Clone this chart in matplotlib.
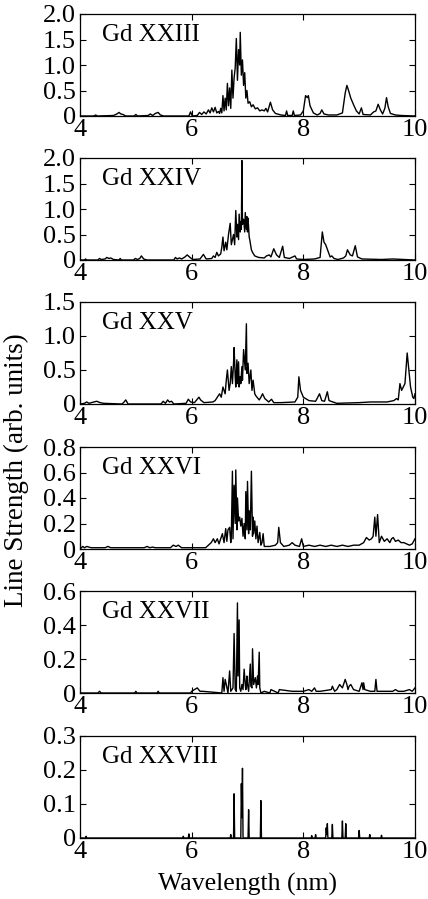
import matplotlib
matplotlib.use("Agg")
import matplotlib.pyplot as plt
from matplotlib.ticker import FuncFormatter

plt.rcParams["font.family"] = ["Liberation Serif", "DejaVu Serif"]
plt.rcParams["font.size"] = 18

# Gd XXIII spectrum (wavelength nm, line strength)
wl_23 = [4.00, 4.25, 4.28, 4.31, 4.60, 4.66, 4.70, 4.73, 4.77, 4.82, 4.97, 5.00, 5.03, 5.22,
         5.26, 5.30, 5.35, 5.40, 5.44, 5.50, 5.95, 5.98, 6.01, 6.10, 6.14, 6.18, 6.22, 6.26,
         6.30, 6.33, 6.36, 6.39, 6.42, 6.45, 6.48, 6.50, 6.52, 6.54, 6.56, 6.58, 6.60, 6.62,
         6.64, 6.66, 6.68, 6.70, 6.72, 6.74, 6.76, 6.78, 6.80, 6.82, 6.84, 6.86, 6.87, 6.89,
         6.91, 6.93, 6.95, 6.97, 6.99, 7.01, 7.04, 7.07, 7.10, 7.14, 7.18, 7.22, 7.26, 7.30,
         7.33, 7.36, 7.41, 7.45, 7.50, 7.60, 7.68, 7.70, 7.72, 7.80, 7.82, 7.84, 7.95, 8.00,
         8.04, 8.07, 8.09, 8.12, 8.18, 8.25, 8.30, 8.33, 8.37, 8.45, 8.60, 8.70, 8.75, 8.78,
         8.81, 8.85, 8.90, 8.95, 9.00, 9.04, 9.07, 9.20, 9.26, 9.30, 9.34, 9.38, 9.42, 9.46,
         9.49, 9.52, 9.56, 9.65, 9.75, 10.00]
ls_23 = [0.00, 0.00, 0.02, 0.00, 0.01, 0.04, 0.07, 0.04, 0.03, 0.00, 0.00, 0.03, 0.00, 0.01,
         0.04, 0.01, 0.05, 0.07, 0.02, 0.00, 0.00, 0.08, 0.00, 0.01, 0.07, 0.03, 0.08, 0.04,
         0.12, 0.06, 0.16, 0.08, 0.17, 0.06, 0.09, 0.05, 0.15, 0.06, 0.40, 0.10, 0.35, 0.12,
         0.64, 0.20, 0.55, 0.15, 0.90, 0.35, 0.75, 0.95, 1.52, 0.70, 1.30, 1.00, 1.64, 0.80,
         1.10, 0.60, 0.85, 0.35, 0.50, 0.25, 0.28, 0.18, 0.22, 0.14, 0.16, 0.10, 0.12, 0.10,
         0.15, 0.08, 0.27, 0.12, 0.05, 0.02, 0.01, 0.10, 0.01, 0.01, 0.10, 0.01, 0.02, 0.10,
         0.40, 0.36, 0.40, 0.20, 0.06, 0.02, 0.05, 0.12, 0.04, 0.02, 0.02, 0.06, 0.45, 0.60,
         0.50, 0.35, 0.22, 0.10, 0.04, 0.16, 0.03, 0.02, 0.08, 0.10, 0.23, 0.12, 0.04, 0.15,
         0.36, 0.18, 0.05, 0.02, 0.01, 0.00]

# Gd XXIV
wl_24 = [4.00, 4.08, 4.10, 4.12, 4.32, 4.35, 4.38, 4.45, 4.48, 4.52, 4.55, 4.60, 4.70, 4.72,
         4.74, 4.96, 4.99, 5.03, 5.07, 5.10, 5.14, 5.20, 5.68, 5.71, 5.74, 5.78, 5.82, 5.88,
         5.92, 5.97, 6.02, 6.15, 6.21, 6.26, 6.36, 6.39, 6.42, 6.45, 6.48, 6.52, 6.54, 6.56,
         6.58, 6.61, 6.63, 6.66, 6.69, 6.71, 6.75, 6.77, 6.79, 6.81, 6.82, 6.84, 6.85, 6.87,
         6.88, 6.89, 6.90, 6.91, 6.93, 6.95, 6.96, 6.98, 6.99, 7.00, 7.01, 7.03, 7.04, 7.07,
         7.09, 7.13, 7.20, 7.30, 7.34, 7.39, 7.42, 7.47, 7.52, 7.57, 7.63, 7.66, 7.75, 7.85,
         7.88, 8.00, 8.20, 8.30, 8.34, 8.37, 8.40, 8.45, 8.48, 8.51, 8.55, 8.62, 8.72, 8.76,
         8.79, 8.84, 8.88, 8.93, 8.97, 9.05, 9.40, 9.60, 9.80, 10.00]
ls_24 = [0.00, 0.00, 0.02, 0.00, 0.00, 0.03, 0.01, 0.02, 0.05, 0.03, 0.04, 0.01, 0.00, 0.03,
         0.00, 0.00, 0.03, 0.01, 0.03, 0.08, 0.02, 0.00, 0.00, 0.05, 0.02, 0.04, 0.02, 0.06,
         0.10, 0.05, 0.01, 0.02, 0.11, 0.02, 0.03, 0.08, 0.05, 0.15, 0.08, 0.12, 0.25, 0.45,
         0.18, 0.35, 0.20, 0.50, 0.72, 0.30, 0.50, 0.30, 0.97, 0.45, 0.70, 0.40, 0.90, 0.55,
         0.75, 0.60, 1.95, 0.70, 0.80, 0.55, 0.93, 0.60, 0.85, 0.55, 0.82, 0.45, 0.40, 0.20,
         0.15, 0.08, 0.05, 0.04, 0.08, 0.10, 0.06, 0.22, 0.10, 0.05, 0.27, 0.05, 0.03, 0.08,
         0.02, 0.01, 0.02, 0.05, 0.55, 0.35, 0.30, 0.15, 0.06, 0.08, 0.03, 0.01, 0.04, 0.08,
         0.20, 0.10, 0.08, 0.28, 0.06, 0.02, 0.01, 0.02, 0.01, 0.00]

# Gd XXV
wl_25 = [4.00, 4.08, 4.12, 4.16, 4.25, 4.30, 4.36, 4.42, 4.75, 4.78, 4.82, 4.86, 5.45, 5.49,
         5.53, 5.57, 5.60, 5.64, 5.68, 5.90, 5.94, 5.98, 6.05, 6.09, 6.13, 6.16, 6.22, 6.38,
         6.42, 6.46, 6.50, 6.53, 6.56, 6.60, 6.62, 6.64, 6.67, 6.69, 6.71, 6.73, 6.75, 6.76,
         6.78, 6.79, 6.81, 6.82, 6.84, 6.85, 6.87, 6.88, 6.90, 6.91, 6.93, 6.96, 6.98, 6.99,
         7.01, 7.03, 7.06, 7.08, 7.10, 7.13, 7.15, 7.21, 7.24, 7.27, 7.31, 7.38, 7.43, 7.47,
         7.60, 7.85, 7.90, 7.92, 7.95, 8.00, 8.10, 8.22, 8.29, 8.33, 8.38, 8.43, 8.46, 8.60,
         9.00, 9.20, 9.50, 9.62, 9.67, 9.70, 9.73, 9.76, 9.79, 9.82, 9.86, 9.89, 9.92, 9.96,
         9.98, 10.00]
ls_25 = [0.00, 0.01, 0.03, 0.01, 0.03, 0.04, 0.02, 0.01, 0.00, 0.02, 0.06, 0.00, 0.00, 0.04,
         0.01, 0.06, 0.03, 0.04, 0.00, 0.01, 0.07, 0.03, 0.02, 0.06, 0.10, 0.06, 0.02, 0.03,
         0.05, 0.10, 0.15, 0.10, 0.25, 0.15, 0.35, 0.50, 0.20, 0.30, 0.55, 0.30, 0.60, 0.83,
         0.40, 0.25, 0.65, 0.30, 0.62, 0.25, 0.40, 0.30, 0.55, 0.35, 0.80, 0.50, 1.18, 0.45,
         0.60, 0.30, 0.50, 0.20, 0.35, 0.15, 0.12, 0.06, 0.10, 0.15, 0.08, 0.03, 0.07, 0.02,
         0.02, 0.03, 0.10, 0.40, 0.20, 0.10, 0.05, 0.04, 0.15, 0.05, 0.04, 0.18, 0.05, 0.01,
         0.02, 0.03, 0.03, 0.05, 0.08, 0.06, 0.30, 0.20, 0.25, 0.30, 0.75, 0.50, 0.25, 0.10,
         0.08, 0.15]

# Gd XXVI
wl_26 = [4.00, 4.05, 4.08, 4.12, 4.20, 4.45, 4.50, 4.55, 5.15, 5.20, 5.25, 5.30, 5.35, 5.62,
         5.67, 5.72, 5.76, 5.82, 6.25, 6.30, 6.35, 6.39, 6.42, 6.46, 6.49, 6.52, 6.55, 6.58,
         6.61, 6.63, 6.65, 6.68, 6.70, 6.71, 6.73, 6.74, 6.76, 6.78, 6.79, 6.81, 6.82, 6.84,
         6.86, 6.88, 6.90, 6.92, 6.94, 6.96, 6.97, 6.99, 7.00, 7.02, 7.03, 7.05, 7.07, 7.09,
         7.10, 7.11, 7.13, 7.15, 7.17, 7.19, 7.22, 7.24, 7.26, 7.28, 7.30, 7.40, 7.50, 7.54,
         7.56, 7.59, 7.65, 7.75, 7.80, 7.85, 7.93, 7.97, 8.00, 8.10, 8.20, 8.30, 8.40, 8.50,
         8.60, 8.70, 8.80, 8.90, 9.00, 9.08, 9.13, 9.18, 9.22, 9.25, 9.28, 9.30, 9.33, 9.36,
         9.40, 9.45, 9.50, 9.55, 9.58, 9.61, 9.65, 9.70, 9.75, 9.80, 9.85, 9.90, 9.95, 10.00]
ls_26 = [0.00, 0.02, 0.01, 0.02, 0.01, 0.01, 0.02, 0.01, 0.01, 0.02, 0.01, 0.015, 0.01, 0.01,
         0.03, 0.02, 0.03, 0.01, 0.01, 0.03, 0.05, 0.08, 0.05, 0.08, 0.04, 0.08, 0.12, 0.05,
         0.16, 0.06, 0.15, 0.17, 0.05, 0.10, 0.61, 0.08, 0.50, 0.20, 0.62, 0.15, 0.40, 0.22,
         0.25, 0.18, 0.24, 0.10, 0.20, 0.08, 0.45, 0.15, 0.53, 0.12, 0.30, 0.15, 0.61, 0.10,
         0.25, 0.12, 0.22, 0.08, 0.18, 0.05, 0.13, 0.03, 0.05, 0.12, 0.02, 0.02, 0.03, 0.05,
         0.17, 0.05, 0.02, 0.03, 0.05, 0.03, 0.02, 0.08, 0.02, 0.03, 0.02, 0.03, 0.02, 0.03,
         0.02, 0.03, 0.02, 0.03, 0.03, 0.05, 0.09, 0.07, 0.08, 0.10, 0.25, 0.10, 0.27, 0.05,
         0.10, 0.06, 0.08, 0.05, 0.08, 0.09, 0.06, 0.07, 0.05, 0.05, 0.04, 0.03, 0.04, 0.08]

# Gd XXVII
wl_27 = [4.00, 4.32, 4.35, 4.38, 4.98, 5.00, 5.02, 5.38, 5.40, 5.42, 5.98, 6.00, 6.05, 6.10,
         6.15, 6.20, 6.54, 6.56, 6.58, 6.60, 6.62, 6.65, 6.68, 6.70, 6.74, 6.76, 6.78, 6.80,
         6.82, 6.83, 6.85, 6.86, 6.88, 6.90, 6.92, 6.94, 6.96, 6.97, 6.99, 7.00, 7.02, 7.05,
         7.06, 7.08, 7.09, 7.11, 7.14, 7.16, 7.18, 7.19, 7.21, 7.22, 7.24, 7.30, 7.40, 7.42,
         7.55, 7.57, 7.80, 8.00, 8.10, 8.15, 8.20, 8.23, 8.30, 8.50, 8.52, 8.56, 8.60, 8.65,
         8.70, 8.75, 8.78, 8.80, 8.82, 8.85, 8.90, 9.00, 9.05, 9.07, 9.08, 9.10, 9.20, 9.28,
         9.30, 9.32, 9.60, 9.65, 9.70, 9.80, 9.90, 9.95, 10.00]
ls_27 = [0.00, 0.00, 0.01, 0.00, 0.00, 0.01, 0.00, 0.00, 0.01, 0.00, 0.00, 0.01, 0.02, 0.03,
         0.01, 0.01, 0.00, 0.09, 0.01, 0.08, 0.05, 0.00, 0.13, 0.01, 0.03, 0.35, 0.02, 0.01,
         0.53, 0.10, 0.43, 0.03, 0.01, 0.05, 0.02, 0.14, 0.05, 0.02, 0.10, 0.05, 0.01, 0.17,
         0.04, 0.03, 0.26, 0.05, 0.09, 0.03, 0.10, 0.05, 0.24, 0.03, 0.00, 0.01, 0.00, 0.02,
         0.00, 0.02, 0.01, 0.01, 0.02, 0.01, 0.03, 0.01, 0.01, 0.02, 0.04, 0.01, 0.02, 0.05,
         0.03, 0.08, 0.05, 0.02, 0.04, 0.05, 0.02, 0.01, 0.06, 0.02, 0.06, 0.02, 0.01, 0.01,
         0.08, 0.01, 0.01, 0.02, 0.01, 0.01, 0.02, 0.01, 0.03]

# Gd XXVIII
wl_28 = [4.00, 4.10, 4.11, 4.12, 5.84, 5.85, 5.86, 5.94, 5.95, 5.96, 6.69, 6.70, 6.71, 6.75,
         6.76, 6.77, 6.88, 6.89, 6.90, 6.91, 6.92, 7.01, 7.02, 7.03, 7.23, 7.24, 7.25, 8.14,
         8.15, 8.16, 8.21, 8.22, 8.23, 8.40, 8.41, 8.42, 8.43, 8.44, 8.51, 8.52, 8.53, 8.69,
         8.70, 8.71, 8.75, 8.76, 8.77, 8.99, 9.00, 9.01, 9.18, 9.19, 9.20, 9.39, 9.40, 9.41,
         10.00]
ls_28 = [0.000, 0.000, 0.005, 0.000, 0.000, 0.005, 0.000, 0.000, 0.012, 0.000, 0.000, 0.010,
         0.000, 0.000, 0.130, 0.000, 0.000, 0.160, 0.060, 0.205, 0.000, 0.000, 0.083, 0.000,
         0.000, 0.110, 0.000, 0.000, 0.007, 0.000, 0.000, 0.010, 0.000, 0.000, 0.030, 0.010,
         0.042, 0.000, 0.000, 0.040, 0.000, 0.000, 0.050, 0.000, 0.000, 0.042, 0.000, 0.000,
         0.022, 0.000, 0.000, 0.010, 0.000, 0.000, 0.008, 0.000, 0.000]

ion_names = ["Gd XXIII", "Gd XXIV", "Gd XXV", "Gd XXVI", "Gd XXVII", "Gd XXVIII"]
wavelengths = [wl_23, wl_24, wl_25, wl_26, wl_27, wl_28]
strengths = [ls_23, ls_24, ls_25, ls_26, ls_27, ls_28]
y_limits = [2.0, 2.0, 1.5, 0.8, 0.6, 0.3]
y_steps = [0.5, 0.5, 0.5, 0.2, 0.2, 0.1]
x_ticks = [4, 6, 8, 10]


def fmt_strength(v, pos):
    if abs(v) < 1e-9:
        return "0"
    return f"{v:.1f}"


fig = plt.figure(figsize=(4.28, 8.99), dpi=100)
W, H = 428, 899
left_px, width_px, height_px = 80, 335, 102
tops_px = [14, 158, 302, 447, 591, 736]

for i, name in enumerate(ion_names):
    top = tops_px[i]
    ax = fig.add_axes([left_px / W, 1 - (top + height_px) / H, width_px / W, height_px / H])
    ax.plot(wavelengths[i], strengths[i], color="black", lw=1.0)
    ax.set_xlim(4, 10)
    ax.set_ylim(0, y_limits[i])
    n = int(round(y_limits[i] / y_steps[i]))
    ax.set_yticks([k * y_steps[i] for k in range(n + 1)])
    ax.yaxis.set_major_formatter(FuncFormatter(fmt_strength))
    ax.set_xticks(x_ticks)
    ax.tick_params(direction="in", top=True, right=True, length=4, width=0.8,
                   labelsize=19)
    ax.tick_params(axis="y", pad=3)
    ax.tick_params(axis="x", pad=2.5)
    for s in ax.spines.values():
        s.set_linewidth(0.9)
    ax.text(0.066, 0.90, name, transform=ax.transAxes, va="top", ha="left", fontsize=18)

fig.text(16 / W, 1 - 470 / H, "Line Strength (arb. units)", rotation=90,
         ha="center", va="center", fontsize=19.5)
fig.text(248 / W, 1 - 884 / H, "Wavelength (nm)", ha="center", va="center", fontsize=18.5)

fig.savefig("out.png", dpi=100)
